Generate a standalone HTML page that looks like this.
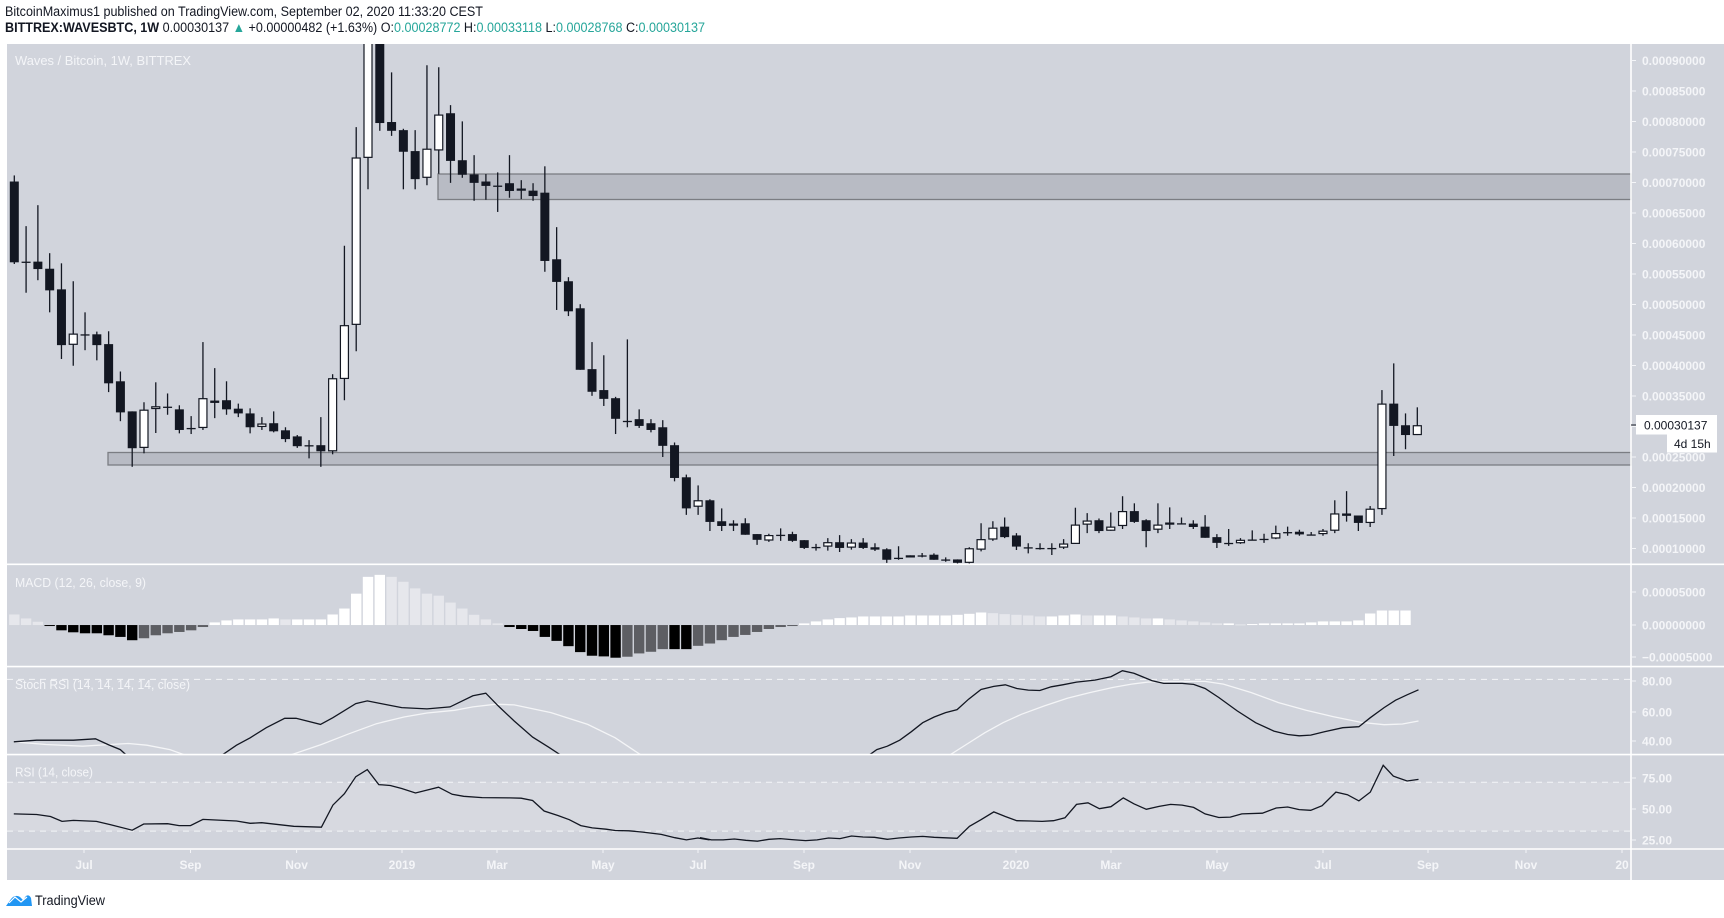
<!DOCTYPE html>
<html><head><meta charset="utf-8"><style>
html,body{margin:0;padding:0;background:#fff;width:1724px;height:918px;overflow:hidden}
svg{display:block}
text{font-family:"Liberation Sans",sans-serif}
</style></head><body>
<svg id="s" width="1724" height="918" viewBox="0 0 1724 918" xmlns="http://www.w3.org/2000/svg">
<rect x="7" y="44" width="1717" height="836" fill="#d1d4dc"/>
<text x="5" y="16" font-size="13.5" fill="#131722" textLength="478" lengthAdjust="spacingAndGlyphs">BitcoinMaximus1 published on TradingView.com, September 02, 2020 11:33:20 CEST</text>
<text x="5" y="32" font-size="13.5" fill="#131722" textLength="700" lengthAdjust="spacingAndGlyphs"><tspan font-weight="bold">BITTREX:WAVESBTC, 1W</tspan> 0.00030137 <tspan fill="#26a69a">▲</tspan> +0.00000482 (+1.63%) O:<tspan fill="#26a69a">0.00028772</tspan> H:<tspan fill="#26a69a">0.00033118</tspan> L:<tspan fill="#26a69a">0.00028768</tspan> C:<tspan fill="#26a69a">0.00030137</tspan></text>
<g id="g"></g>
</svg>
<script>
const NS="http://www.w3.org/2000/svg",g=document.getElementById('g');
function el(t,a,txt){const e=document.createElementNS(NS,t);for(const k in a)e.setAttribute(k,a[k]);if(txt!==undefined)e.textContent=txt;g.appendChild(e);return e;}
const SRC=[556.7,663,752.9,852.3],DST=[564.3,666.6,754.6,849];
function f(y){for(let i=0;i<3;i++){if(y<=SRC[i+1]||i==2){return DST[i]+(y-SRC[i])*(DST[i+1]-DST[i])/(SRC[i+1]-SRC[i]);}}}
const Y=z=>60.5+(40+z/3-60)*1.0141;
el('rect',{x:7,y:f(782),width:1624,height:f(833.5)-f(782),fill:'#d7d9e0'});
el('rect',{x:438,y:174,width:1193,height:25.5,fill:'#b8bbc4',stroke:'#7b7d83','stroke-width':1.3});
el('rect',{x:108,y:452.5,width:1523,height:12.5,fill:'#b8bbc4',stroke:'#7b7d83','stroke-width':1.3});
const defs=el('defs',{});
function clip(id,x,y,w,h){const cp=document.createElementNS(NS,'clipPath');cp.setAttribute('id',id);defs.appendChild(cp);const r=document.createElementNS(NS,'rect');r.setAttribute('x',x);r.setAttribute('y',y);r.setAttribute('width',w);r.setAttribute('height',h);cp.appendChild(r);}
clip('pc',7,44,1624,DST[0]-44);
clip('sc',7,DST[1],1624,DST[2]-DST[1]);
const C=[
['d',418,657,400,662],['j',655,655,550,747],['d',655,677,488,710],['d',676,740,630,805],['d',737,902,660,943],
['w',868,901,713,963],['j',870,870,805,917],['d',870,902,862,947],['d',899,1015,861,1041],['d',1009,1101,980,1127],
['d',1098,1207,1098,1262],['w',1093,1206,1071,1222],['w',1083,1091,1012,1162],['j',1084,1084,1045,1108],['d',1092,1153,1080,1163],
['j',1147,1147,1112,1165],['w',1059,1147,893,1153],['d',1066,1073,970,1118],['d',1065,1092,1009,1108],['d',1090,1104,1075,1115],
['d',1104,1145,1089,1163],['w',1134,1144,1115,1153],['d',1133,1157,1098,1160],['d',1154,1180,1145,1189],['d',1172,1201,1168,1206],
['j',1198,1198,1183,1237],['d',1198,1216,1115,1262],['w',1000,1216,988,1225],['w',843,1002,608,1065],['w',347,842,257,920],
['w',-80,348,-90,441],['d',-60,245,-90,268],['d',242,268,95,283],['d',266,330,262,441],['d',328,411,266,441],
['w',321,407,74,429],['w',220,326,80,395],['d',216,357,192,422],['d',355,398,240,407],['d',397,422,340,475],
['d',418,431,396,472],['j',430,430,391,508],['d',423,446,340,466],['w',439,445,414,470],['d',445,461,423,475],
['d',451,653,373,685],['d',648,715,553,798],['d',713,802,701,816],['d',793,975,781,975],['d',973,1040,893,1052],
['d',1035,1061,932,1082],['d',1059,1120,1055,1165],['j',1126,1126,885,1145],['d',1121,1141,1092,1147],['d',1133,1153,1121,1160],
['d',1145,1200,1124,1233],['d',1198,1295,1190,1305],['d',1293,1385,1285,1404],['w',1361,1380,1317,1404],['d',1361,1425,1358,1452],
['d',1423,1437,1385,1452],['w',1430,1436,1420,1452],['d',1429,1463,1414,1463],['d',1461,1478,1461,1493],['w',1464,1480,1460,1484],
['j',1463,1463,1444,1481],['d',1461,1481,1454,1484],['d',1479,1502,1479,1505],['j',1499,1499,1490,1510],['w',1485,1498,1473,1510],
['d',1485,1502,1464,1514],['w',1486,1501,1476,1507],['d',1486,1502,1473,1505],['d',1500,1507,1488,1511],['d',1506,1537,1503,1546],
['j',1531,1531,1497,1537],['w',1524,1530,1524,1530],['j',1524,1524,1517,1530],['d',1522,1537,1518,1537],['j',1536,1536,1530,1543],
['d',1536,1546,1536,1550],['w',1503,1546,1500,1549],['w',1476,1507,1429,1512],['w',1442,1477,1423,1481],['d',1439,1470,1412,1473],
['d',1465,1498,1458,1508],['j',1500,1500,1488,1518],['j',1502,1502,1488,1507],['j',1502,1502,1488,1523],['w',1489,1501,1476,1505],
['w',1433,1490,1383,1490],['w',1421,1433,1399,1458],['d',1420,1452,1415,1458],['w',1439,1451,1397,1451],['w',1393,1437,1349,1446],
['d',1393,1425,1370,1428],['d',1420,1452,1417,1500],['w',1433,1448,1370,1458],['w',1427,1433,1382,1446],['j',1429,1429,1412,1432],
['d',1430,1440,1420,1446],['d',1439,1472,1405,1472],['d',1470,1487,1461,1502],['j',1487,1487,1446,1496],['w',1478,1488,1473,1490],
['j',1477,1477,1450,1480],['j',1475,1475,1460,1487],['w',1458,1474,1436,1476],['j',1455,1455,1439,1466],['d',1454,1462,1448,1466],
['j',1462,1462,1455,1465],['w',1451,1461,1446,1466],['w',1400,1451,1361,1458],['d',1400,1407,1334,1424],['d',1406,1428,1406,1452],
['w',1386,1428,1378,1440],['w',1075,1387,1035,1404],['d',1075,1141,956,1230],['d',1139,1168,1104,1210],['w',1139,1168,1086,1168]];
const X=i=>14.3+11.79*i;
const pg=el('g',{'clip-path':'url(#pc)'});
C.forEach((c,i)=>{const x=X(i);
 const w=document.createElementNS(NS,'line');
 w.setAttribute('x1',x);w.setAttribute('x2',x);w.setAttribute('y1',Y(c[3]));w.setAttribute('y2',Y(c[4]));w.setAttribute('stroke','#131722');w.setAttribute('stroke-width',1.3);pg.appendChild(w);
 const r=document.createElementNS(NS,'rect');
 let t=Y(c[1]),b=Y(c[2]);if(b-t<1.3){b=t+1.3;}
 if(c[0]=='w'){r.setAttribute('x',x-4);r.setAttribute('width',8);r.setAttribute('y',t+0.5);r.setAttribute('height',Math.max(b-t-1,0.5));r.setAttribute('fill','#fff');r.setAttribute('stroke','#131722');r.setAttribute('stroke-width',1.2);}
 else{r.setAttribute('x',x-4.5);r.setAttribute('width',9);r.setAttribute('y',t);r.setAttribute('height',b-t);r.setAttribute('fill','#131722');}
 pg.appendChild(r);});
const M=[180,192,202,214,228,234,237,237,243,248,258,252,243,237,233,228,218,204,198,195,195,195,192,195,195,195,195,180,162,117,66,60,66,81,101,117,123,144,162,181,195,207,218,224,230,248,260,276,294,305,307,311,308,298,293,285,285,285,
275,268,258,248,242,233,224,218,214,
207,201,195,191,189,186,186,186,186,183,183,183,183,181,178,174,176,179,181,183,186,186,183,180,183,183,183,186,189,192,192,195,198,201,204,207,207,210,209,207,207,207,207,204,201,201,201,198,177,168,168,168];
const MY=z=>f(556.7+(z-28)*0.343), Z0=MY(212);
M.forEach((v,i)=>{const y=MY(v);const prev=i?MY(M[i-1]):y;let col;
 if(y<=Z0){col=(y<=prev)?'#ffffff':'#e6e7ec';}else{col=(y>=prev)?'#000000':'#5d5e63';}
 if(i<3)col='#e6e7ec';
 el('rect',{x:X(i)-5.2,y:Math.min(y,Z0),width:10.4,height:Math.max(Math.abs(y-Z0),1),fill:col});});
function pl(pts,col,clipit){const d=pts.map(p=>p[0].toFixed(1)+','+MY(p[1]).toFixed(1)).join(' ');const a={points:d,fill:'none',stroke:col,'stroke-width':1.3};if(clipit)a['clip-path']='url(#sc)';el('polyline',a);}
const z7=a=>a.map(p=>[p[0]/2.178,p[1]]), z8=a=>a.map(p=>[700+p[0]/2.178,p[1]]);
[676,782,833.5].forEach(y=>el('line',{x1:7,x2:1631,y1:f(y),y2:f(y),stroke:'#f4f5f7','stroke-dasharray':'6,5','stroke-width':1}));
pl(z7([[30,562],[100,570],[180,575],[240,570],[280,567],[320,572],[370,585],[410,605]]),'#f4f5f7',1);
pl(z7([[625,605],[700,570],[760,538],[820,508],[880,488],[930,476],[990,468],[1030,458],[1080,450],[1120,452],[1200,475],[1280,510],[1340,550],[1400,605]]),'#f4f5f7',1);
pl(z8([[540,605],[580,570],[620,535],[660,505],[700,480],[750,455],[800,432],[850,415],[900,400],[940,390],[975,384],[1020,382],[1100,382],[1140,390],[1200,415],[1260,445],[1320,468],[1380,487],[1440,504],[1490,511],[1530,509],[1565,500]]),'#f4f5f7',1);
pl(z7([[30,562],[80,557],[160,557],[208,553],[235,570],[262,585],[278,605]]),'#131722',1);
pl(z7([[480,605],[515,572],[545,550],[580,520],[620,492],[645,492],[698,510],[725,490],[775,448],[800,440],[830,448],[875,460],[930,464],[980,458],[1030,425],[1058,417],[1085,455],[1120,500],[1160,548],[1195,578],[1225,605]]),'#131722',1);
pl(z8([[365,605],[385,585],[408,575],[435,557],[460,532],[485,505],[510,488],[535,475],[560,466],[585,435],[612,406],[640,397],[665,392],[690,403],[715,408],[740,409],[765,398],[790,392],[820,384],[860,378],[895,368],[920,350],[945,358],[985,380],[1010,388],[1050,388],[1075,391],[1100,403],[1130,430],[1170,470],[1210,505],[1250,530],[1280,540],[1305,544],[1330,542],[1360,532],[1400,520],[1435,517],[1460,490],[1490,460],[1515,438],[1540,422],[1565,407]]),'#131722',1);
pl(z7([[30,782],[80,784],[110,790],[135,805],[160,802],[210,805],[240,815],[288,832],[313,813],[365,812],[390,818],[415,818],[442,799],[515,804],[545,811],[570,809],[640,820],[700,823],[725,755],[750,720],[775,668],[800,646],[825,692],[850,695],[875,704],[905,718],[955,700],[985,722],[1010,728],[1050,732],[1110,733],[1135,734],[1160,741],[1185,773],[1215,787],[1240,800],[1265,818],[1290,825],[1320,829],[1340,833],[1370,834],[1400,838],[1440,845],[1470,855],[1495,862],[1520,856],[1545,862]]).concat(z8([[0,855],[25,862],[50,862],[75,859],[100,863],[125,866],[150,860],[175,858],[200,861],[230,864],[255,862],[280,856],[305,858],[330,850],[355,853],[380,854],[408,860],[433,856],[460,853],[485,851],[510,854],[560,857],[587,820],[612,800],[640,776],[665,790],[690,803],[720,804],[745,805],[770,803],[795,794],[820,753],[845,748],[870,766],[895,760],[922,733],[945,751],[972,768],[1000,759],[1025,753],[1050,755],[1075,762],[1100,782],[1130,793],[1155,792],[1180,782],[1225,780],[1255,764],[1280,761],[1305,769],[1330,771],[1355,757],[1385,715],[1410,723],[1435,742],[1460,715],[1488,633],[1510,666],[1540,681],[1565,676]])),'#131722',0);
DST.forEach(y=>el('line',{x1:7,x2:1724,y1:y,y2:y,stroke:'#ffffff','stroke-width':1.6}));
el('line',{x1:1631,x2:1631,y1:44,y2:880,stroke:'#ffffff','stroke-width':1.6});
const tc='#f4f5f8';
el('text',{x:15,y:65,'font-size':13,fill:tc,textLength:176,lengthAdjust:'spacingAndGlyphs'},'Waves / Bitcoin, 1W, BITTREX');
el('text',{x:15,y:f(579)+1,'font-size':13,fill:tc,textLength:131,lengthAdjust:'spacingAndGlyphs'},'MACD (12, 26, close, 9)');
el('text',{x:15,y:f(686),'font-size':13,fill:tc,textLength:175,lengthAdjust:'spacingAndGlyphs'},'Stoch RSI (14, 14, 14, 14, close)');
el('text',{x:15,y:f(776),'font-size':13,fill:tc,textLength:78,lengthAdjust:'spacingAndGlyphs'},'RSI (14, close)');
function ax(y,t){el('line',{x1:1631,x2:1636,y1:y,y2:y,stroke:'#f4f5f8','stroke-width':1});el('text',{x:1642,y:y+4.5,'font-size':12,fill:tc,'font-weight':'bold'},t);}
for(let n=0;n<=16;n++){const v=90-n*5;const y=60.5+n*30.5;ax(y,'0.000'+String(v).padStart(2,'0')+'000');}
ax(592,'0.00005000');ax(625,'0.00000000');ax(657,'\u22120.00005000');
ax(681,'80.00');ax(712,'60.00');ax(741,'40.00');
ax(778,'75.00');ax(809,'50.00');ax(840,'25.00');
el('rect',{x:1636,y:415,width:81,height:19.5,fill:'#ffffff'});
el('line',{x1:1631,x2:1636,y1:425,y2:425,stroke:'#131722','stroke-width':1});
el('text',{x:1644,y:429.5,'font-size':12,fill:'#131722'},'0.00030137');
el('rect',{x:1667,y:434.5,width:50,height:18,fill:'#ffffff'});
el('text',{x:1674,y:448,'font-size':12,fill:'#131722'},'4d 15h');
[['Jul',84],['Sep',190.5],['Nov',296.6],['2019',402],['Mar',497],['May',603],['Jul',698],['Sep',804],['Nov',910],['2020',1016],['Mar',1111],['May',1217],['Jul',1323],['Sep',1428],['Nov',1526],['20',1622]].forEach(a=>{
 el('line',{x1:a[1],x2:a[1],y1:849,y2:853,stroke:'#f4f5f8','stroke-width':1});
 el('text',{x:a[1],y:869,'font-size':12,fill:tc,'font-weight':'bold','text-anchor':'middle'},a[0]);});
el('path',{d:'M6 906 L11 899 Q15 894 20 897 L23 900 L26 896 Q29 894 31 898 L32 906 Z',fill:'#2196f3'});
el('polyline',{points:'9,903 15,897 21,902 27,897',fill:'none',stroke:'#fff','stroke-width':1.2});
el('text',{x:35,y:905,'font-size':13.5,fill:'#131722',textLength:70,lengthAdjust:'spacingAndGlyphs'},'TradingView');
</script>
</body></html>
